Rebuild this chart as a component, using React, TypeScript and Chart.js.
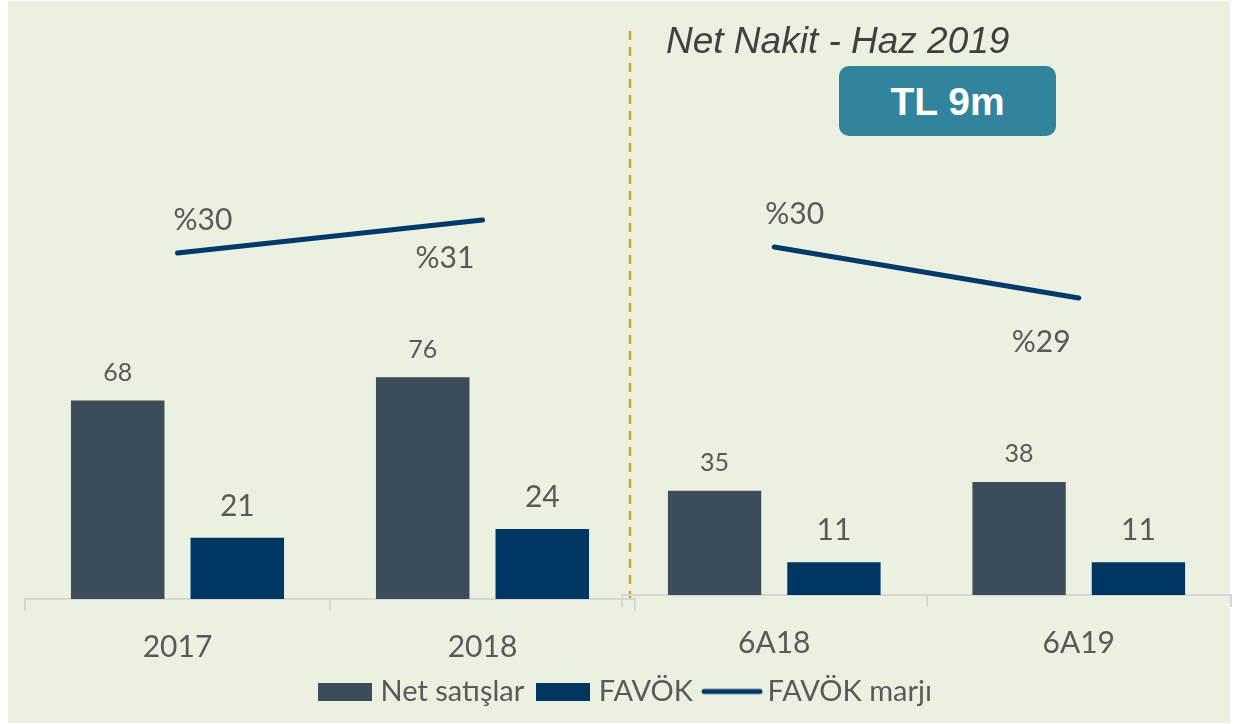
import React, { useEffect, useRef } from 'react';
import { Chart, registerables } from 'chart.js';

Chart.register(...registerables);

// ---- data ----
const leftCategories = ['2017', '2018'];
const rightCategories = ['6A18', '6A19'];
const leftNetSales = [68, 76];
const leftEbitda = [21, 24];
const leftMargin = [30, 31];
const rightNetSales = [35, 38];
const rightEbitda = [11, 11];
const rightMargin = [30, 29];
const seriesNames = ['Net satışlar', 'FAVÖK', 'FAVÖK marjı'];
const titleText = 'Net Nakit - Haz 2019';
const badgeText = 'TL 9m';

// ---- style ----
const FONT = 'Lato, "Noto Sans", sans-serif';
const PANEL = '#EBF0E0';
const NET_COLOR = '#3D4C5A';
const EBITDA_COLOR = '#003662';
const LINE_COLOR = '#003A68';
const TEXT_COLOR = '#595959';
const AXIS_COLOR = '#D6D6D6';

// label offsets (dx, dy from point) for the margin labels
const leftMarginLabelOffsets = [[25.5, -23], [-37.5, 48]];
const rightMarginLabelOffsets = [[20.5, -22.5], [-37.5, 54]];

function makeLabelPlugin(lineOffsets: number[][]) {
  return {
    id: 'valueLabels',
    afterDatasetsDraw(chart: any) {
      const ctx = chart.ctx;
      ctx.save();
      ctx.fillStyle = TEXT_COLOR;
      ctx.textAlign = 'center';
      ctx.textBaseline = 'alphabetic';
      chart.data.datasets.forEach((ds: any, di: number) => {
        const meta = chart.getDatasetMeta(di);
        meta.data.forEach((el: any, i: number) => {
          const v = ds.data[i];
          if (meta.type === 'bar') {
            const size = di === 0 ? 25 : 30;
            const off = di === 0 ? 19.5 : 22;
            ctx.font = `${size}px ${FONT}`;
            ctx.fillText(String(Math.round(v)), el.x, el.y - off);
          } else {
            ctx.font = `30px ${FONT}`;
            const [dx, dy] = lineOffsets[i];
            ctx.fillText('%' + v, el.x + dx, el.y + dy);
          }
        });
      });
      ctx.restore();
    },
  };
}

function rectSwatch(color: string) {
  const c = document.createElement('canvas');
  c.width = 54;
  c.height = 18;
  const g = c.getContext('2d')!;
  g.fillStyle = color;
  g.fillRect(0, 0, 54, 18);
  return c;
}

function lineSwatch(color: string) {
  const c = document.createElement('canvas');
  c.width = 62;
  c.height = 8;
  const g = c.getContext('2d')!;
  g.strokeStyle = color;
  g.lineWidth = 5;
  g.lineCap = 'round';
  g.beginPath();
  g.moveTo(3, 4);
  g.lineTo(59, 4);
  g.stroke();
  return c;
}

function buildDatasets(net: number[], ebitda: number[], margin: number[]) {
  return [
    {
      type: 'bar' as const,
      label: seriesNames[0],
      data: net,
      backgroundColor: NET_COLOR,
      yAxisID: 'y',
      categoryPercentage: 0.784,
      barPercentage: 0.782,
    },
    {
      type: 'bar' as const,
      label: seriesNames[1],
      data: ebitda,
      backgroundColor: EBITDA_COLOR,
      yAxisID: 'y',
      categoryPercentage: 0.784,
      barPercentage: 0.782,
    },
    {
      type: 'line' as const,
      label: seriesNames[2],
      data: margin,
      borderColor: LINE_COLOR,
      backgroundColor: LINE_COLOR,
      borderWidth: 5,
      borderCapStyle: 'round' as const,
      pointRadius: 0,
      pointHoverRadius: 0,
      yAxisID: 'y2',
      tension: 0,
    },
  ];
}

function xAxis(height: number) {
  return {
    grid: {
      display: true,
      drawOnChartArea: false,
      drawTicks: true,
      tickLength: 12,
      color: AXIS_COLOR,
      lineWidth: 2,
      offset: true,
    },
    border: { display: true, color: AXIS_COLOR, width: 2 },
    ticks: { color: TEXT_COLOR, font: { family: FONT, size: 30 }, padding: 18 },
    afterFit: (s: any) => {
      s.height = height;
    },
  };
}

function hiddenAxis(min: number, max: number, position: string, width: number) {
  return {
    display: true,
    position,
    min,
    max,
    ticks: { display: false },
    grid: { display: false },
    border: { display: false },
    afterFit: (s: any) => {
      s.width = width;
    },
  };
}

export default function App() {
  const leftRef = useRef<HTMLCanvasElement>(null);
  const rightRef = useRef<HTMLCanvasElement>(null);

  useEffect(() => {
    const left = new Chart(leftRef.current!, {
      type: 'bar',
      data: {
        labels: leftCategories,
        datasets: buildDatasets(leftNetSales, leftEbitda, leftMargin) as any,
      },
      options: {
        responsive: false,
        animation: false,
        events: [],
        layout: { padding: { left: 22, right: 0, top: 100, bottom: 8 } },
        scales: {
          x: xAxis(60) as any,
          y: hiddenAxis(0, 171, 'left', 3) as any,
          y2: hiddenAxis(19.5, 34.64, 'right', 599) as any,
        },
        plugins: {
          tooltip: { enabled: false },
          legend: {
            display: true,
            position: 'bottom',
            labels: {
              usePointStyle: true,
              pointStyleWidth: 42,
              boxHeight: 18,
              padding: 18,
              color: TEXT_COLOR,
              font: { family: FONT, size: 29 },
              generateLabels: () => [
                { text: seriesNames[0], pointStyle: rectSwatch(NET_COLOR) as any, fillStyle: NET_COLOR, strokeStyle: NET_COLOR, lineWidth: 0, hidden: false, datasetIndex: 0, fontColor: TEXT_COLOR },
                { text: seriesNames[1], pointStyle: rectSwatch(EBITDA_COLOR) as any, fillStyle: EBITDA_COLOR, strokeStyle: EBITDA_COLOR, lineWidth: 0, hidden: false, datasetIndex: 1, fontColor: TEXT_COLOR },
                { text: seriesNames[2], pointStyle: lineSwatch(LINE_COLOR) as any, fillStyle: LINE_COLOR, strokeStyle: LINE_COLOR, lineWidth: 0, hidden: false, datasetIndex: 2, fontColor: TEXT_COLOR },
              ],
            },
          },
        },
      },
      plugins: [makeLabelPlugin(leftMarginLabelOffsets)],
    });

    const right = new Chart(rightRef.current!, {
      type: 'bar',
      data: {
        labels: rightCategories,
        datasets: buildDatasets(rightNetSales, rightEbitda, rightMargin) as any,
      },
      options: {
        responsive: false,
        animation: false,
        events: [],
        layout: { padding: { left: 0, right: 0, top: 100, bottom: 69 } },
        scales: {
          x: xAxis(60) as any,
          y: hiddenAxis(0, 166.3, 'left', 622) as any,
          y2: hiddenAxis(23.18, 32.88, 'right', 3) as any,
        },
        plugins: {
          tooltip: { enabled: false },
          legend: { display: false },
        },
      },
      plugins: [makeLabelPlugin(rightMarginLabelOffsets)],
    });

    return () => {
      left.destroy();
      right.destroy();
    };
  }, []);

  return (
    <div
      style={{
        position: 'fixed',
        left: 0,
        top: 0,
        width: 1234,
        height: 724,
        background: '#FFFFFF',
        overflow: 'hidden',
      }}
    >
      <div
        style={{
          position: 'absolute',
          left: 8,
          top: 1,
          width: 1222,
          height: 722,
          background: PANEL,
        }}
      />
      <svg
        width={1234}
        height={724}
        style={{ position: 'absolute', left: 0, top: 0 }}
      >
        <line
          x1={630}
          y1={31}
          x2={630}
          y2={600}
          stroke="#C9A227"
          strokeWidth={2.5}
          strokeDasharray="9 7"
        />
      </svg>
      <canvas
        ref={leftRef}
        width={1234}
        height={724}
        style={{ position: 'absolute', left: 0, top: 0 }}
      />
      <canvas
        ref={rightRef}
        width={1234}
        height={724}
        style={{ position: 'absolute', left: 0, top: 0 }}
      />
      <div
        style={{
          position: 'absolute',
          left: 666,
          top: 22,
          fontFamily: '"Liberation Sans", Arial, sans-serif',
          fontStyle: 'italic',
          fontSize: 37,
          lineHeight: '37px',
          color: '#404040',
          whiteSpace: 'nowrap',
        }}
      >
        {titleText}
      </div>
      <div
        style={{
          position: 'absolute',
          left: 839,
          top: 66,
          width: 217,
          height: 70,
          borderRadius: 10,
          background: '#31849B',
          display: 'flex',
          alignItems: 'center',
          justifyContent: 'center',
          color: '#FFFFFF',
          fontFamily: '"Liberation Sans", Arial, sans-serif',
          fontWeight: 'bold',
          fontSize: 39,
          lineHeight: '39px',
          whiteSpace: 'nowrap',
        }}
      >
        {badgeText}
      </div>
    </div>
  );
}
